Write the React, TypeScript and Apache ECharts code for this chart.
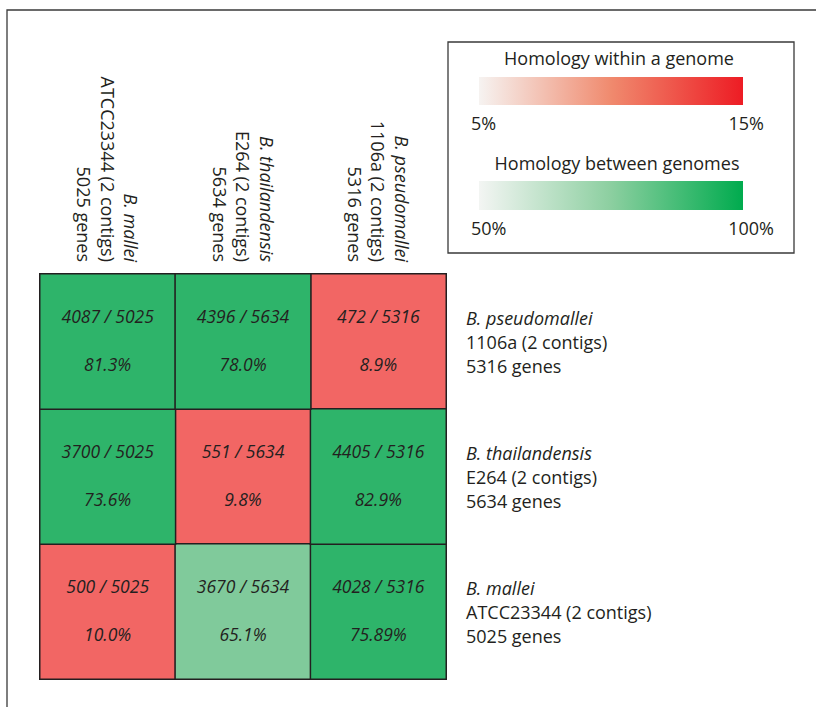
import React, { useEffect, useRef } from "react";
import * as echarts from "echarts";

// Columns (left to right)
const columnSpecies = ["B. mallei", "B. thailandensis", "B. pseudomallei"];
const columnStrains = ["ATCC23344 (2 contigs)", "E264 (2 contigs)", "1106a (2 contigs)"];
const columnGenes = ["5025 genes", "5634 genes", "5316 genes"];

// Rows (bottom to top)
const rowSpecies = ["B. mallei", "B. thailandensis", "B. pseudomallei"];
const rowStrains = ["ATCC23344 (2 contigs)", "E264 (2 contigs)", "1106a (2 contigs)"];
const rowGenes = ["5025 genes", "5634 genes", "5316 genes"];

// shared genes per [row][column], rows bottom to top
const sharedGenes = [
  [500, 3670, 4028],
  [3700, 551, 4405],
  [4087, 4396, 472],
];
// total genes per column
const totalGenes = [5025, 5634, 5316];
// percent labels per [row][column]
const percentLabels = [
  ["10.0%", "65.1%", "75.89%"],
  ["73.6%", "9.8%", "82.9%"],
  ["81.3%", "78.0%", "8.9%"],
];

const withinTitle = "Homology within a genome";
const withinRange = ["5%", "15%"];
const betweenTitle = "Homology between genomes";
const betweenRange = ["50%", "100%"];

const FONT = "'Open Sans', 'Noto Sans', sans-serif";
const INK = "#231f20";

export default function App() {
  const ref = useRef<HTMLDivElement>(null);

  useEffect(() => {
    if (!ref.current) return;
    const chart = echarts.init(ref.current, null, { renderer: "svg" });

    const withinData: any[] = [];
    const betweenData: any[] = [];
    for (let r = 0; r < rowSpecies.length; r++) {
      for (let c = 0; c < columnSpecies.length; c++) {
        const item = {
          value: [c, r, parseFloat(percentLabels[r][c])],
          shared: sharedGenes[r][c],
          total: totalGenes[c],
          pct: percentLabels[r][c],
        };
        if (columnSpecies[c] === rowSpecies[r]) withinData.push(item);
        else betweenData.push(item);
      }
    }

    const cellLabel = {
      show: true,
      offset: [0, -2],
      formatter: (p: any) => `{a|${p.data.shared} / ${p.data.total}}\n{a|${p.data.pct}}`,
      rich: {
        a: {
          fontFamily: FONT,
          fontStyle: "italic",
          fontSize: 17.5,
          lineHeight: 48,
          color: INK,
        },
      },
    };

    const cellItemStyle = { borderColor: INK, borderWidth: 1.5 };

    const rich = (align: string, lh: number) => ({
      sp: { fontFamily: FONT, fontStyle: "italic", fontSize: 18, lineHeight: lh, color: INK, align },
      tx: { fontFamily: FONT, fontSize: 18, lineHeight: lh, color: INK, align },
    });

    const option: any = {
      animation: false,
      backgroundColor: "#ffffff",
      grid: { left: 40, top: 274, width: 406, height: 405 },
      xAxis: {
        type: "category",
        data: columnSpecies,
        position: "top",
        axisLine: { show: false },
        axisTick: { show: false },
        splitLine: { show: false },
        axisLabel: {
          interval: 0,
          rotate: 90,
          margin: 12,
          formatter: (_v: string, i: number) =>
            `{sp|${columnSpecies[i]}}\n{tx|${columnStrains[i]}}\n{tx|${columnGenes[i]}}`,
          rich: rich("right", 23.5),
        },
      },
      yAxis: {
        type: "category",
        data: rowSpecies,
        position: "right",
        axisLine: { show: false },
        axisTick: { show: false },
        splitLine: { show: false },
        axisLabel: {
          interval: 0,
          margin: 20,
          align: "left",
          formatter: (_v: string, i: number) =>
            `{sp|${rowSpecies[i]}}\n{tx|${rowStrains[i]}}\n{tx|${rowGenes[i]}}`,
          rich: rich("left", 24),
        },
      },
      visualMap: [
        {
          type: "piecewise",
          show: false,
          seriesIndex: 0,
          dimension: 2,
          pieces: [{ min: 0, max: 100, color: "#f26664" }],
        },
        {
          type: "piecewise",
          show: false,
          seriesIndex: 1,
          dimension: 2,
          pieces: [
            { min: 0, lt: 70, color: "#80ca9b" },
            { gte: 70, max: 100, color: "#2eb46a" },
          ],
        },
      ],
      series: [
        {
          name: "within",
          type: "heatmap",
          data: withinData,
          label: cellLabel,
          itemStyle: cellItemStyle,
          emphasis: { disabled: true },
        },
        {
          name: "between",
          type: "heatmap",
          data: betweenData,
          label: cellLabel,
          itemStyle: cellItemStyle,
          emphasis: { disabled: true },
        },
      ],
      graphic: [
        {
          type: "rect",
          silent: true,
          shape: { x: 7, y: 10, width: 900, height: 800 },
          style: { fill: "none", stroke: "#3a3a3a", lineWidth: 1.3 },
        },
        {
          type: "rect",
          silent: true,
          shape: { x: 448, y: 42, width: 346, height: 211 },
          style: { fill: "none", stroke: "#3a3a3a", lineWidth: 1.3 },
        },
        {
          type: "text",
          x: 619,
          y: 58,
          style: { text: withinTitle, font: `18px ${FONT}`, fill: INK, align: "center", verticalAlign: "middle" },
        },
        {
          type: "rect",
          shape: { x: 479, y: 77, width: 264, height: 28 },
          style: {
            fill: new echarts.graphic.LinearGradient(0, 0, 1, 0, [
              { offset: 0, color: "#f6f3f1" },
              { offset: 0.5, color: "#f08a6e" },
              { offset: 1, color: "#ed1c24" },
            ]),
          },
        },
        {
          type: "text",
          x: 471,
          y: 123,
          style: { text: withinRange[0], font: `18px ${FONT}`, fill: INK, align: "left", verticalAlign: "middle" },
        },
        {
          type: "text",
          x: 764,
          y: 123,
          style: { text: withinRange[1], font: `18px ${FONT}`, fill: INK, align: "right", verticalAlign: "middle" },
        },
        {
          type: "text",
          x: 617,
          y: 163,
          style: { text: betweenTitle, font: `18px ${FONT}`, fill: INK, align: "center", verticalAlign: "middle" },
        },
        {
          type: "rect",
          shape: { x: 479, y: 181, width: 264, height: 29 },
          style: {
            fill: new echarts.graphic.LinearGradient(0, 0, 1, 0, [
              { offset: 0, color: "#f3f5f3" },
              { offset: 0.5, color: "#8ccfa0" },
              { offset: 1, color: "#00ab4e" },
            ]),
          },
        },
        {
          type: "text",
          x: 471,
          y: 228,
          style: { text: betweenRange[0], font: `18px ${FONT}`, fill: INK, align: "left", verticalAlign: "middle" },
        },
        {
          type: "text",
          x: 774,
          y: 228,
          style: { text: betweenRange[1], font: `18px ${FONT}`, fill: INK, align: "right", verticalAlign: "middle" },
        },
      ],
    };

    chart.setOption(option);
    return () => chart.dispose();
  }, []);

  return (
    <div
      ref={ref}
      style={{ position: "absolute", left: 0, top: 0, width: 816, height: 707 }}
    />
  );
}
